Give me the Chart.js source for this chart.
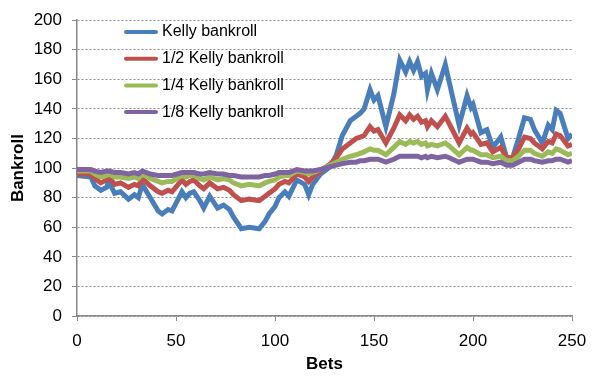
<!DOCTYPE html>
<html>
<head>
<meta charset="utf-8">
<script src="https://cdn.jsdelivr.net/npm/chart.js@4/dist/chart.umd.min.js"></script>
<style>
  html, body { margin: 0; padding: 0; background: #fff; }
  #wrap { width: 600px; height: 376px; position: relative; }
</style>
</head>
<body>
<div id="wrap"><canvas id="chart" width="600" height="376"></canvas></div>
<script>
// bet numbers where the lines turn
const bets = [0, 7, 9, 12, 15, 16, 19, 22, 26, 29, 31, 33, 37, 41, 43, 46, 48, 53, 55, 57, 59, 62, 64, 67, 71, 74, 77, 79, 83, 87, 92, 95, 97, 100, 102, 105, 107, 111, 115, 117, 119, 123, 128, 131, 134, 138, 141, 143, 145, 148, 150, 152, 156, 160, 163, 166, 168, 170, 172, 174, 176, 177, 179, 182, 186, 188, 193, 197, 199, 200, 204, 207, 210, 214, 217, 220, 223, 226, 229, 231, 235, 238, 240, 242, 244, 248, 250];

const kelly = [95, 94, 88, 85, 87, 91, 83, 84, 79, 82, 80, 89, 80, 71, 69, 72, 71, 84, 80, 83, 84, 78, 73, 81, 73, 75, 72, 67, 59, 60, 59, 64, 69, 74, 80, 84, 81, 92, 89, 82, 89, 96, 101, 109, 122, 132, 135, 137, 140, 153, 146, 149, 128, 150, 173, 165, 172, 166, 172, 162, 164, 153, 164, 153, 170, 158, 129, 149, 141, 143, 124, 126, 114, 121, 107, 107, 120, 134, 133, 126, 117, 129, 126, 139, 137, 120, 123];

const half = [96, 96, 93, 90, 92, 94, 89, 90, 87, 89, 88, 93, 88, 84, 83, 85, 84, 92, 89, 91, 92, 88, 86, 90, 86, 87, 85, 82, 78, 79, 78, 81, 83, 86, 89, 91, 90, 96, 94, 91, 94, 98, 103, 107, 113, 117, 120, 121, 122, 128, 125, 126, 117, 127, 136, 132, 136, 133, 135, 131, 132, 128, 132, 128, 135, 130, 117, 127, 123, 124, 116, 117, 111, 114, 107, 107, 113, 121, 120, 117, 113, 118, 117, 123, 122, 115, 116];

const quarter = [98, 98, 96, 94, 95, 96, 94, 94, 93, 94, 93, 96, 93, 91, 90, 91, 91, 95, 94, 95, 95, 93, 92, 94, 92, 93, 92, 90, 88, 89, 88, 90, 91, 92, 94, 95, 95, 98, 97, 96, 97, 99, 102, 104, 106, 108, 109, 110, 111, 113, 112, 112, 109, 114, 118, 116, 118, 117, 118, 116, 117, 115, 116, 115, 117, 115, 109, 114, 112, 112, 109, 109, 107, 108, 105, 105, 108, 112, 112, 110, 108, 111, 110, 113, 112, 109, 110];

const eighth = [99, 99, 98, 97, 98, 98, 97, 97, 96, 97, 96, 98, 96, 95, 95, 95, 95, 97, 97, 97, 97, 96, 96, 97, 96, 96, 95, 95, 94, 94, 94, 95, 95, 96, 97, 97, 97, 99, 98, 98, 98, 99, 101, 102, 103, 104, 104, 105, 105, 106, 106, 106, 104, 106, 108, 108, 108, 108, 108, 107, 108, 107, 108, 107, 108, 107, 104, 106, 106, 106, 104, 104, 103, 104, 102, 102, 104, 106, 106, 105, 104, 105, 105, 106, 106, 104, 105];

const seriesNames = ["Kelly bankroll", "1/2 Kelly bankroll", "1/4 Kelly bankroll", "1/8 Kelly bankroll"];
const seriesColors = ["#4a7ebb", "#c0504d", "#9bbb59", "#8064a2"];
const allSeries = [kelly, half, quarter, eighth];

const FONT = "'Liberation Sans', Arial, sans-serif";

function pts(arr) {
  return arr.map((v, i) => ({ x: bets[i], y: v }));
}

// legend drawn inside the plot, top left
const insideLegend = {
  id: "insideLegend",
  afterDraw(chart) {
    const ctx = chart.ctx;
    ctx.save();
    ctx.font = "16px " + FONT;
    ctx.textBaseline = "middle";
    seriesNames.forEach((n, i) => {
      const y = 32 + i * 26.7;
      ctx.strokeStyle = seriesColors[i];
      ctx.lineWidth = 4;
      ctx.lineCap = "round";
      ctx.beginPath();
      ctx.moveTo(126, y);
      ctx.lineTo(156, y);
      ctx.stroke();
      ctx.fillStyle = "#000";
      ctx.fillText(n, 162, y);
    });
    ctx.restore();
  },
};

new Chart(document.getElementById("chart"), {
  type: "line",
  data: {
    datasets: allSeries.map((s, i) => ({
      label: seriesNames[i],
      data: pts(s),
      borderColor: seriesColors[i],
      borderWidth: 5,
      pointRadius: 0,
      tension: 0,
      fill: false,
      order: 4 - i,
    })),
  },
  options: {
    responsive: false,
    animation: false,
    layout: { padding: { top: 16, right: 28, left: 0, bottom: 0 } },
    plugins: { legend: { display: false }, tooltip: { enabled: false } },
    scales: {
      x: {
        type: "linear",
        min: 0,
        max: 250,
        ticks: { stepSize: 50, color: "#000", font: { family: FONT, size: 17 }, padding: 10 },
        grid: { drawOnChartArea: false, tickLength: 5, color: "#888" },
        border: { color: "#888", width: 1.5 },
        title: { display: true, text: "Bets", color: "#000", font: { family: FONT, size: 17, weight: "bold" }, padding: 1 },
        afterFit: (s) => { s.height = 60; },
      },
      y: {
        min: 0,
        max: 200,
        ticks: { stepSize: 20, color: "#000", font: { family: FONT, size: 17 }, padding: 10 },
        grid: { color: "#8c8c8c", lineWidth: 1, tickLength: 5, tickColor: "#888", tickBorderDash: [] },
        border: { color: "#888", width: 1.5, dash: [2, 2] },
        title: { display: true, text: "Bankroll", color: "#000", font: { family: FONT, size: 17, weight: "bold" }, padding: { top: 8, bottom: 0 } },
        afterFit: (s) => { s.width = 77; },
      },
    },
  },
  plugins: [insideLegend],
});
</script>
</body>
</html>
